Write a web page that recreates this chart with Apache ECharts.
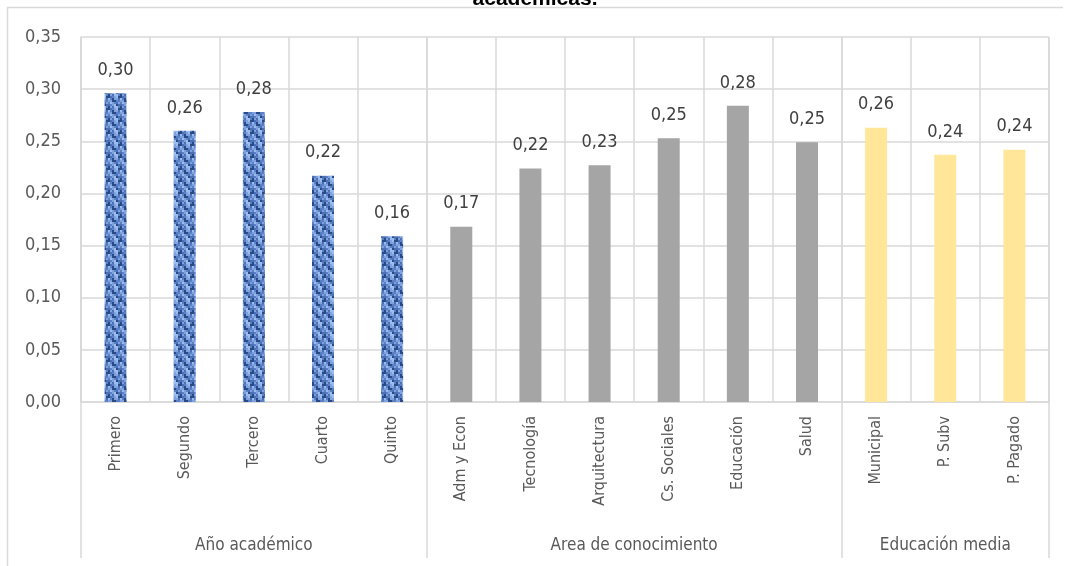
<!DOCTYPE html>
<html>
<head>
<meta charset="utf-8">
<script src="https://cdn.jsdelivr.net/npm/echarts@6/dist/echarts.min.js"></script>
<style>
  html, body { margin: 0; padding: 0; background: #fff; }
  #main { width: 1069px; height: 566px; }
</style>
</head>
<body>
<div id="main"></div>
<script>
// categorias y valores
var categorias = ['Primero', 'Segundo', 'Tercero', 'Cuarto', 'Quinto',
  'Adm y Econ', 'Tecnología', 'Arquitectura', 'Cs. Sociales', 'Educación', 'Salud',
  'Municipal', 'P. Subv', 'P. Pagado'];
var valores = [0.296, 0.260, 0.278, 0.217, 0.159,
  0.168, 0.224, 0.227, 0.253, 0.284, 0.249,
  0.263, 0.237, 0.242];
var grupos = ['Año académico', 'Area de conocimiento', 'Educación media'];
var grupoTamano = [5, 6, 3];
var yTicks = [0, 0.05, 0.10, 0.15, 0.20, 0.25, 0.30, 0.35];
var titulo = 'académicas.';

var fuente = '"Liberation Sans Narrow", "DejaVu Sans Condensed", "Roboto", sans-serif';

// textura azul para el primer grupo (patron fijo)
function texturaAzul() {
  var c = document.createElement('canvas');
  c.width = 12; c.height = 12;
  var ctx = c.getContext('2d');
  var tonos = ['#2a4a86', '#5a80c6', '#9dbcee', '#4a70b6', '#7fa2de'];
  for (var x = 0; x < 6; x++) {
    for (var y = 0; y < 6; y++) {
      ctx.fillStyle = tonos[(x * 3 + y * 7 + (x * y) % 4) % 5];
      ctx.fillRect(x * 2, y * 2, 2, 2);
    }
  }
  return { image: c, repeat: 'repeat' };
}
var colorAzul = texturaAzul();

// armar datos con color segun grupo
var datos = [];
var limites = [0];
var idx = 0;
grupoTamano.forEach(function (n, g) {
  for (var k = 0; k < n; k++) {
    var col = g === 0 ? colorAzul : (g === 1 ? '#a5a5a5' : '#ffe699');
    datos.push({ value: valores[idx], itemStyle: { color: col } });
    idx++;
  }
  limites.push(idx);
});
// centros de cada grupo en el eje secundario
var centros = [];
for (var g = 0; g < grupos.length; g++) centros.push((limites[g] + limites[g + 1]) / 2);

var chart = echarts.init(document.getElementById('main'));
var option = {
  animation: false,
  graphic: [{
    type: 'polyline',
    shape: { points: [[7.5, 566], [7.5, 7.5], [1063, 7.5]] },
    style: { stroke: '#d9d9d9', lineWidth: 1.5, fill: null },
    silent: true
  }, {
    // titulo cortado arriba, como en la imagen
    type: 'text',
    x: 535, y: 10,
    style: {
      text: titulo, textAlign: 'center', textVerticalAlign: 'bottom',
      fontFamily: '"Liberation Sans", Arial, sans-serif', fontWeight: 'bold', fontSize: 21, fill: '#000'
    },
    silent: true
  }],
  grid: { left: 81, right: 20, top: 37, bottom: 164 },
  xAxis: [{
    type: 'category',
    data: categorias,
    axisLine: { show: true, lineStyle: { color: '#d9d9d9', width: 1.5 } },
    axisTick: { show: false },
    splitLine: { show: true, lineStyle: { color: '#d9d9d9', width: 1.5 } },
    axisLabel: {
      rotate: 90, margin: 14, interval: 0,
      fontFamily: fuente, fontSize: 16, color: '#595959'
    }
  }, {
    type: 'value',
    position: 'bottom',
    offset: 156,
    min: 0, max: categorias.length,
    axisLine: { show: false },
    splitLine: { show: false },
    axisTick: {
      show: true, inside: true, length: 521,
      customValues: limites,
      lineStyle: { color: '#d9d9d9', width: 1.5 }
    },
    axisLabel: {
      inside: true, margin: 4,
      customValues: centros,
      formatter: function (v) { return grupos[centros.indexOf(v)] || ''; },
      fontFamily: fuente, fontSize: 17, color: '#595959'
    }
  }],
  yAxis: {
    type: 'value',
    min: 0, max: 0.35, interval: 0.05,
    axisLine: { show: true, lineStyle: { color: '#d9d9d9', width: 1.5 } },
    axisTick: { show: false },
    splitLine: { show: true, lineStyle: { color: '#d9d9d9', width: 1.5 } },
    axisLabel: {
      margin: 20,
      fontFamily: fuente, fontSize: 18, color: '#595959',
      formatter: function (v) { return v.toFixed(2).replace('.', ','); }
    }
  },
  series: [{
    type: 'bar',
    xAxisIndex: 0,
    barWidth: 22,
    data: datos,
    label: {
      show: true, position: 'top', distance: 14,
      fontFamily: fuente, fontSize: 18, color: '#404040',
      formatter: function (p) { return p.value.toFixed(2).replace('.', ','); }
    }
  }]
};
chart.setOption(option);
</script>
</body>
</html>
